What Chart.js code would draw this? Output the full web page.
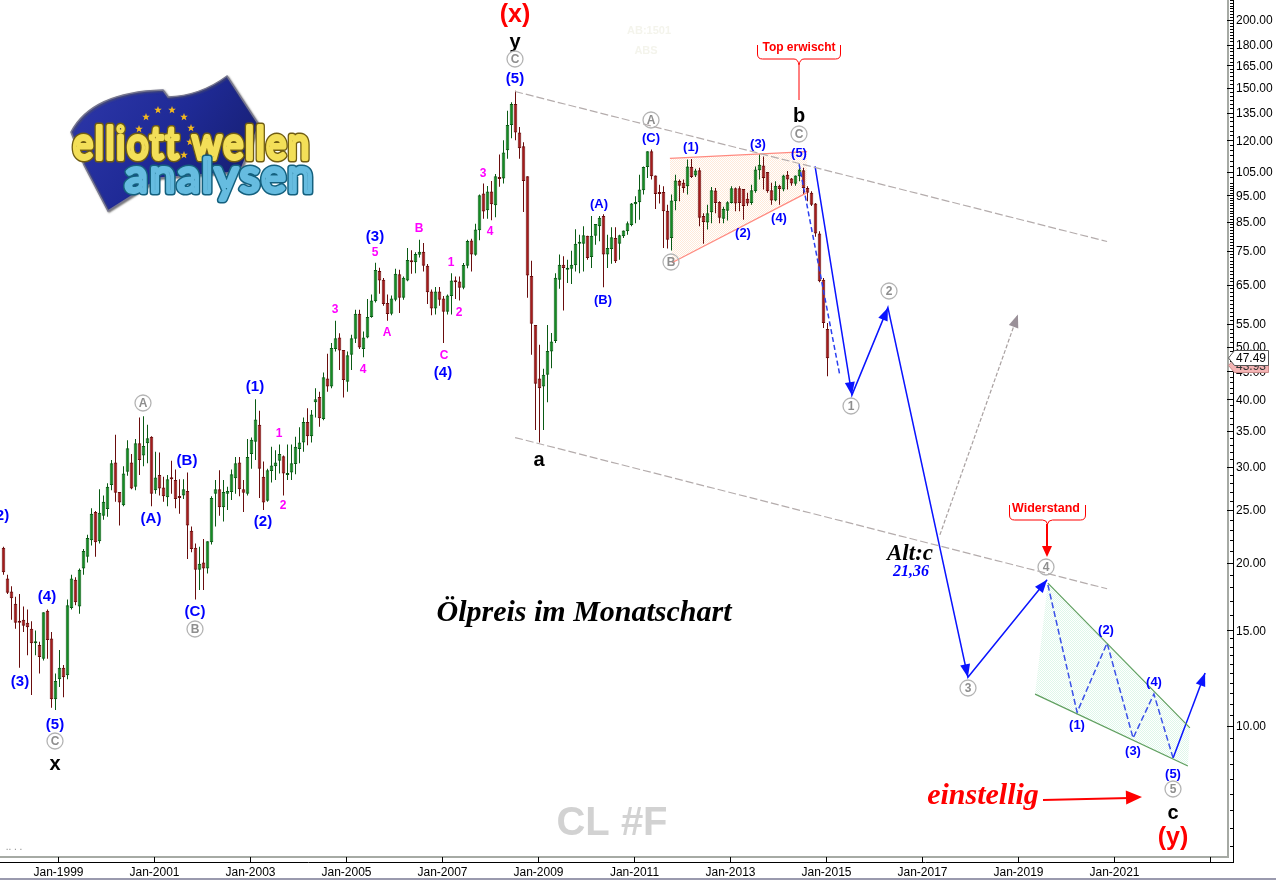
<!DOCTYPE html>
<html>
<head>
<meta charset="utf-8">
<title>CL #F</title>
<script src="https://cdn.jsdelivr.net/npm/chart.js@4"></script>
<style>
  html, body { margin: 0; padding: 0; background: #fff; overflow: hidden; }
  canvas { display: block; }
</style>
</head>
<body>
<canvas id="oilChart" width="1276" height="880"></canvas>
<script>
/* =========================
   DATA (monthly candles, first bar = Nov 1997)
========================= */
const candleHigh = [
  21.4,19.0,18.1,17.3,17.5,16.6,16.4,15.6,15.0,14.3,16.2,16.4,14.9,12.5,13.8,12.95,17.1,19.0,18.8,19.5,
  21.2,22.5,25.2,24.9,27.3,26.6,28.0,30.9,34.4,27.0,30.1,33.6,31.7,33.8,37.0,37.2,35.9,34.2,32.0,31.9,
  28.8,29.0,30.8,29.7,28.5,28.5,29.3,23.3,21.7,21.4,22.1,21.9,26.5,28.4,29.6,28.4,27.6,29.7,31.3,31.3,
  28.4,33.8,34.0,40.0,38.1,30.7,29.8,32.7,32.2,33.0,31.5,33.0,33.0,34.1,35.5,37.0,38.5,38.2,41.9,41.3,
  44.8,48.5,50.8,55.8,52.9,49.3,49.0,52.6,58.5,58.5,53.3,61.2,62.4,71.4,69.9,66.9,62.4,62.1,69.6,69.3,
  67.3,76.0,75.3,74.6,78.7,77.6,71.0,63.7,64.4,64.4,62.0,62.4,68.3,67.3,67.3,71.3,78.7,79.0,84.2,95.3,
  99.9,98.8,101,104,113,120,136,141,148,127,119,103,72.0,54.8,50.4,45.5,54.8,53.0,68.3,73.9,
  73.4,72.3,75.1,82.3,80.4,83.3,80.0,87.0,84.1,87.0,87.7,80.4,83.0,83.0,80.4,81.8,85.0,92.0,94.6,103.7,
  107.4,114.6,115.4,103.3,99.4,98.7,91.3,95.3,103.7,101.6,101.6,110.6,110.9,106.3,106.8,88.1,91.3,98.4,98.0,92.7,
  90.5,92.7,98.7,98.2,98.7,97.6,96.1,99.4,107.4,113.1,112.0,104.9,100.2,100.9,99.4,103.7,105.3,102.3,103.3,108.2,
  106.8,98.7,96.7,92.0,81.6,66.9,55.3
];
const candleOpen = [
  21.3,18.7,17.7,16.8,15.6,15.7,15.5,15.1,14.2,14.1,13.3,16.3,14.5,11.2,12.2,12.8,12.4,16.5,18.6,16.6,
  19.5,20.5,22.0,24.8,21.9,24.4,25.1,27.8,30.6,27.0,25.5,29.4,30.6,27.6,33.2,31.5,33.2,34.1,27.2,29.0,
  27.5,26.4,28.6,28.4,26.5,26.6,27.1,22.9,21.3,19.4,20.0,19.5,21.8,26.8,27.3,25.3,26.8,27.0,28.6,30.6,
  27.3,26.8,31.7,33.4,35.9,28.8,26.0,29.5,30.1,30.8,31.4,29.0,29.3,30.4,32.4,33.3,36.3,34.2,39.5,40.4,
  36.8,43.7,42.2,49.5,52.0,49.3,43.1,48.3,51.7,57.5,49.5,52.0,56.7,60.6,68.9,66.4,60.2,57.5,61.0,68.0,
  61.5,66.2,71.9,71.5,73.8,74.8,70.5,63.2,58.8,63.2,61.3,58.0,62.0,66.2,65.9,64.2,70.5,78.4,73.8,81.9,
  95.7,89.2,96.6,91.1,102.5,102,115,128,140,124,117,103,67.5,54.8,43.7,42.2,44.4,49.0,51.2,66.4,
  70.8,69.3,69.6,70.6,77.4,77.4,80.0,73.1,80.0,83.3,87.0,73.9,75.7,79.3,77.4,79.9,81.6,83.8,91.5,92.3,
  97.1,107.1,114.6,103.3,96.3,96.4,89.0,79.3,92.7,101,100.2,98.7,107.1,103.3,105.7,87.0,84.7,88.4,97.0,92.4,
  86.0,89.0,92.0,97.9,97.9,97.6,93.6,92.0,96.7,105.7,107.8,104.9,97.1,92.9,99.0,97.4,103.7,102.0,99.8,103.0,
  105.7,98.0,96.1,91.8,80.8,66.4,53.9
];
const candleClose = [
  19.2,17.6,17.2,15.5,15.5,15.3,15.2,14.2,14.3,13.4,16.2,14.4,11.2,12.1,12.8,12.3,16.7,18.7,16.9,19.4,
  21.0,22.2,24.6,21.8,24.7,25.9,27.6,30.5,26.9,25.8,29.2,32.5,27.4,33.2,30.9,32.8,33.9,26.8,28.7,27.4,
  26.5,28.5,28.5,26.2,26.3,27.3,23.4,21.2,19.4,19.9,19.5,21.9,26.3,27.3,25.3,27.0,27.1,29.1,30.5,27.3,
  26.9,31.3,33.7,36.7,29.8,25.8,29.6,30.2,30.6,31.7,29.2,29.2,30.5,32.7,33.3,36.3,34.2,37.5,40.0,36.9,
  43.9,42.2,49.7,51.8,49.2,43.4,48.2,51.8,57.5,49.8,52.0,56.7,60.8,69.2,66.2,59.9,57.4,61.3,68.1,61.5,
  67.0,72.2,71.5,74.1,74.8,70.5,63.0,58.8,63.2,61.0,58.0,62.1,66.2,65.7,64.2,70.7,78.3,73.9,82.2,95.0,
  88.7,96.6,91.5,103,101.8,114,128,140,124,116,101,67.6,55.1,42.7,41.9,44.4,49.1,51.1,67.0,70.8,
  69.8,69.8,70.8,77.4,77.7,80.2,72.8,80.0,84.1,86.4,73.9,76.0,79.5,71.8,80.2,81.8,84.4,91.8,92.4,97.4,
  107.1,114.6,103.0,95.5,95.5,88.8,78.7,92.9,101.2,99.0,98.0,107.4,102.7,105.6,86.4,84.8,88.1,97.1,92.0,86.4,
  89.7,92.3,97.9,91.8,92.0,90.8,91.8,97.1,106.0,108.2,102.3,96.7,92.9,99.0,97.6,103.3,101.6,99.9,103.3,106.0,
  98.0,96.1,91.3,80.8,66.0,55.3,47.6
];
const candleLow = [
  19.0,17.5,15.7,15.1,12.8,14.9,13.5,11.4,13.5,12.5,13.2,13.3,10.8,10.7,11.8,11.3,12.2,16.4,16.7,16.1,
  19.0,20.0,21.5,20.5,21.7,24.0,24.3,27.2,25.9,23.4,25.4,28.9,27.3,27.2,29.0,30.1,30.5,25.4,26.8,26.6,
  25.9,25.4,26.8,25.2,24.6,26.2,20.3,20.9,17.1,17.8,17.8,19.1,21.6,23.3,24.4,23.8,25.0,26.1,26.8,26.5,
  24.8,26.6,29.8,30.9,26.3,25.0,25.9,28.1,28.4,29.2,26.6,28.4,28.4,29.1,30.5,32.0,32.9,33.3,37.0,35.6,
  36.6,41.3,41.9,49.0,45.3,40.3,41.3,45.3,50.8,49.5,47.8,51.8,56.5,60.3,62.6,59.5,55.8,57.1,60.6,57.7,
  61.0,66.0,68.1,68.3,73.0,68.8,59.9,57.1,57.3,59.5,50.8,57.3,57.3,61.2,60.8,63.8,69.7,68.8,73.5,78.5,
  86.0,86.0,85.5,86.6,98.5,99.9,111,121,120,111,88.5,61.5,48.3,35.1,33.3,35.1,39.5,45.6,50.8,63.9,
  58.3,65.5,65.2,68.8,68.3,68.8,72.3,69.8,77.0,78.2,64.3,69.8,71.1,71.3,72.3,79.3,80.4,83.3,84.4,85.7,
  95.3,102.3,101.6,89.7,91.8,76.0,75.8,75.2,89.2,92.7,96.1,95.3,102.3,102.7,83.3,77.4,82.2,84.4,88.1,84.4,
  84.4,85.4,91.8,88.8,88.8,85.7,90.8,91.3,96.1,101.6,97.4,96.1,91.3,92.7,91.3,96.7,97.4,99.0,99.0,100.9,
  95.3,92.7,90.8,79.7,65.7,54.1,44.1
];

// month numbers count from Jan-1999 = 0
const firstCandleMonth = -14;
const tickMonths = [0, 24, 48, 72, 96, 120, 144, 168, 192, 216, 240, 264, 288];
const tickLabels = ["Jan-1999", "Jan-2001", "Jan-2003", "Jan-2005", "Jan-2007", "Jan-2009", "Jan-2011",
  "Jan-2013", "Jan-2015", "Jan-2017", "Jan-2019", "Jan-2021", ""];
const priceTicks = [200, 180, 165, 150, 135, 120, 105, 95, 85, 75, 65, 55, 50, 45, 40, 35, 30, 25, 20, 15, 10];

// drawn wave paths and channels, as [month, price]
const channelTop = [[113.9, 147.6], [261.9, 78.1]];
const channelBottom = [[113.9, 34.0], [261.9, 17.9]];
const altPath = [[220.1, 22.5], [239.6, 57.3]];
const mainPath = [[188.9, 107.4], [198.1, 40.7], [207.1, 59.0], [227.1, 12.3], [246.9, 18.6]];
const lastWavePath = [[278.4, 8.73], [286.4, 12.52]];
const fallDash = [[184.9, 108.4], [195.1, 44.2]];
const wedgeWaves = [[247.1, 18.2], [254.4, 10.6], [261.9, 14.22], [268.4, 9.5], [273.6, 11.45], [278.4, 8.73]];
const triangleTop = [[152.6, 111.1], [186.9, 114.4]];
const triangleBottom = [[153.1, 71.4], [186.9, 96.1]];
const wedgeTop = [[247.1, 18.34], [282.6, 9.92]];
const wedgeBottom = [[243.9, 11.45], [282.1, 8.44]];

/* =========================
   TEXT ON THE CHART
========================= */
const blueLabels = [
  ["(2)", 0, 515], ["(4)", 47, 596], ["(3)", 20, 681], ["(5)", 55, 724], ["(1)", 255, 386], ["(B)", 187, 460],
  ["(A)", 151, 518], ["(2)", 263, 521], ["(C)", 195, 611], ["(3)", 375, 236], ["(4)", 443, 372], ["(5)", 515, 78]
];
const smallBlueLabels = [
  ["(A)", 599, 203], ["(B)", 603, 299], ["(C)", 651, 137], ["(1)", 691, 146], ["(3)", 758, 143], ["(5)", 799, 152],
  ["(2)", 743, 232], ["(4)", 779, 217], ["(2)", 1106, 629], ["(4)", 1154, 681], ["(1)", 1077, 724], ["(3)", 1133, 750],
  ["(5)", 1173, 773]
];
const pinkLabels = [
  ["1", 279, 433], ["2", 283, 505], ["3", 335, 309], ["5", 375, 252], ["4", 363, 369], ["A", 387, 332], ["B", 419, 228],
  ["C", 444, 355], ["1", 451, 262], ["2", 459, 312], ["3", 483, 173], ["4", 490, 231]
];
const blackLabels = [["x", 55, 763], ["a", 539, 459], ["y", 515, 41], ["b", 799, 115], ["c", 1173, 812]];
const circleLabels = [
  ["A", 143, 403], ["B", 195, 629], ["C", 55, 741], ["C", 515, 59], ["A", 651, 120], ["B", 671, 262], ["C", 799, 134],
  ["2", 889, 291], ["1", 851, 406], ["3", 968, 688], ["4", 1046, 567], ["5", 1173, 789]
];

/* =========================
   DRAW HELPERS
========================= */
function dotPattern(ctx, dot) {
  const c = document.createElement("canvas");
  c.width = 2;
  c.height = 2;
  const p = c.getContext("2d");
  p.fillStyle = "#fff";
  p.fillRect(0, 0, 2, 2);
  p.fillStyle = dot;
  p.fillRect(0, 0, 1, 1);
  p.fillRect(1, 1, 1, 1);
  return ctx.createPattern(c, "repeat");
}

// y + 1: canvas "middle" sits a pixel above the visual centre of these fonts
function text(ctx, str, x, y, font, color) {
  ctx.font = font;
  ctx.fillStyle = color;
  ctx.textAlign = "center";
  ctx.textBaseline = "middle";
  ctx.fillText(str, x, y + 1);
}

function arrowHead(ctx, x0, y0, x1, y1, color, len, half) {
  const a = Math.atan2(y1 - y0, x1 - x0);
  ctx.fillStyle = color;
  ctx.beginPath();
  ctx.moveTo(x1, y1);
  ctx.lineTo(x1 - len * Math.cos(a) + half * Math.sin(a), y1 - len * Math.sin(a) - half * Math.cos(a));
  ctx.lineTo(x1 - len * Math.cos(a) - half * Math.sin(a), y1 - len * Math.sin(a) + half * Math.cos(a));
  ctx.closePath();
  ctx.fill();
}

function brace(ctx, left, right, top, bottom, tipY) {
  const mid = (left + right) / 2;
  ctx.beginPath();
  ctx.moveTo(left, top);
  ctx.lineTo(left, bottom - 5);
  ctx.quadraticCurveTo(left, bottom, left + 5, bottom);
  ctx.lineTo(mid - 5, bottom);
  ctx.quadraticCurveTo(mid - 1, bottom, mid, tipY);
  ctx.quadraticCurveTo(mid + 1, bottom, mid + 5, bottom);
  ctx.lineTo(right - 5, bottom);
  ctx.quadraticCurveTo(right, bottom, right, bottom - 5);
  ctx.lineTo(right, top);
  ctx.stroke();
}

function star(ctx, x, y, r) {
  ctx.beginPath();
  for (let i = 0; i < 10; i++) {
    const a = -Math.PI / 2 + i * Math.PI / 5;
    const d = i % 2 ? r * 0.42 : r;
    ctx.lineTo(x + d * Math.cos(a), y + d * Math.sin(a));
  }
  ctx.closePath();
  ctx.fill();
}

// logo letters are drawn as tubes: dark stroke, light stroke on top
function tubeText(ctx, str, x, y, maxWidth, dark, light) {
  ctx.strokeStyle = dark;
  ctx.lineWidth = 7;
  ctx.strokeText(str, x, y, maxWidth);
  ctx.strokeStyle = light;
  ctx.lineWidth = 4;
  ctx.strokeText(str, x, y, maxWidth);
}

function drawLogo(ctx) {
  ctx.save();
  ctx.shadowColor = "rgba(90,90,90,0.8)";
  ctx.shadowBlur = 2;
  ctx.shadowOffsetX = 1;
  ctx.shadowOffsetY = 1;
  const g = ctx.createLinearGradient(80, 90, 240, 200);
  g.addColorStop(0, "#2c36a8");
  g.addColorStop(0.5, "#1f2a96");
  g.addColorStop(1, "#161e70");
  ctx.fillStyle = g;
  ctx.strokeStyle = "#77778f";
  ctx.lineWidth = 1.5;
  ctx.beginPath();
  ctx.moveTo(71, 132);
  ctx.quadraticCurveTo(92, 92, 163, 90);
  ctx.lineTo(168, 97);
  ctx.quadraticCurveTo(200, 96, 227, 76);
  ctx.lineTo(259, 125);
  ctx.lineTo(240, 172);
  ctx.lineTo(160, 178);
  ctx.lineTo(108, 211);
  ctx.lineTo(84, 165);
  ctx.closePath();
  ctx.fill();
  ctx.stroke();
  ctx.restore();

  ctx.fillStyle = "#f2b81e";
  [[146, 117], [158, 110], [172, 110], [184, 117], [191, 128], [190, 142], [184, 155], [139, 129]].forEach(s => star(ctx, s[0], s[1], 4));

  ctx.save();
  ctx.textAlign = "left";
  ctx.textBaseline = "alphabetic";
  ctx.lineJoin = "round";
  ctx.lineCap = "round";
  ctx.font = "44px Lato";
  ctx.letterSpacing = "2px";
  tubeText(ctx, "elliott wellen", 73, 159, 238, "#6f5c12", "#f3df58");
  ctx.font = "46px Lato";
  tubeText(ctx, "analysen", 125, 192, 190, "#14607e", "#66bce0");
  ctx.restore();
}

/* =========================
   PLUGIN: frame, ladder ticks, fills, labels
========================= */
const decorPlugin = {
  id: "decor",
  beforeDatasetsDraw(chart) {
    const { ctx, scales } = chart;
    const px = p => [scales.x.getPixelForValue(p[0]), scales.y.getPixelForValue(p[1])];
    const area = (pts, fill) => {
      ctx.fillStyle = fill;
      ctx.beginPath();
      pts.map(px).forEach(p => ctx.lineTo(p[0], p[1]));
      ctx.closePath();
      ctx.fill();
    };
    area([triangleTop[0], triangleTop[1], triangleBottom[1], triangleBottom[0]], dotPattern(ctx, "#ffe9d8"));
    area([wedgeTop[0], wedgeTop[1], wedgeBottom[1], wedgeBottom[0]], dotPattern(ctx, "#dff7ea"));

    drawLogo(ctx);

    text(ctx, "AB:1501", 649, 30, "bold 11px 'Liberation Sans'", "#f4f4ec");
    text(ctx, "ABS", 646, 50, "bold 11px 'Liberation Sans'", "#f4f4ec");
    text(ctx, ".. . .", 14, 846, "10px 'Liberation Sans'", "#909090");
    text(ctx, "CL #F", 612, 823, "bold 40px 'Liberation Sans'", "#d2d2d2");

    // grey inner frame
    ctx.fillStyle = "#a6aaa4";
    ctx.fillRect(1227, 0, 2, 858);
    ctx.fillRect(0, 856, 1229, 2);
    ctx.fillStyle = "#9a9aae";
    ctx.fillRect(0, 878, 1276, 2);

    // ladder of minor ticks on the price axis
    ctx.fillStyle = "#000";
    const yMax = scales.y.max;
    for (let v = 6; v < yMax; v += v < 15 ? 0.5 : v < 100 ? 1 : 2.5) {
      ctx.fillRect(1230, Math.round(scales.y.getPixelForValue(v)), 3, 1);
    }
    priceTicks.forEach(v => ctx.fillRect(1227, Math.round(scales.y.getPixelForValue(v)), 7, 1));
    scales.x.ticks.forEach(t => ctx.fillRect(Math.floor(scales.x.getPixelForValue(t.value)), 857, 1, 5));
  },
  afterDatasetsDraw(chart) {
    const { ctx } = chart;

    // arrow heads on the ends of the wave paths
    chart.data.datasets.forEach((ds, i) => {
      if (!ds.arrowColor) return;
      const pts = chart.getDatasetMeta(i).data;
      pts.forEach((p, k) => {
        if (k === 0) return;
        arrowHead(ctx, pts[k - 1].x, pts[k - 1].y, p.x, p.y, ds.arrowColor, 13, 5);
      });
    });

    blueLabels.forEach(l => text(ctx, l[0], l[1], l[2], "bold 15px 'Liberation Sans'", "#0000ff"));
    smallBlueLabels.forEach(l => text(ctx, l[0], l[1], l[2], "bold 13px 'Liberation Sans'", "#0000ff"));
    pinkLabels.forEach(l => text(ctx, l[0], l[1], l[2], "bold 12px 'Liberation Sans'", "#ff00ff"));
    blackLabels.forEach(l => text(ctx, l[0], l[1], l[2], "bold 20px 'Liberation Sans'", "#000"));

    circleLabels.forEach(l => {
      ctx.strokeStyle = "#b4b4b4";
      ctx.lineWidth = 1.3;
      ctx.beginPath();
      ctx.arc(l[1], l[2], 8, 0, Math.PI * 2);
      ctx.stroke();
      text(ctx, l[0], l[1], l[2] - 0.5, "bold 12px 'Liberation Sans'", "#8e8e8e");
    });

    text(ctx, "(x)", 515, 14, "bold 25px 'Liberation Sans'", "#ff0000");
    text(ctx, "(y)", 1173, 837, "bold 25px 'Liberation Sans'", "#ff0000");
    text(ctx, "Ölpreis im Monatschart", 584, 612, "italic bold 30px 'Liberation Serif'", "#000");
    text(ctx, "Alt:c", 910, 553, "italic bold 23px 'Liberation Serif'", "#000");
    text(ctx, "21,36", 911, 571, "italic bold 16px 'Liberation Serif'", "#0000ff");
    text(ctx, "einstellig", 983, 795, "italic bold 30px 'Liberation Serif'", "#ff0000");

    // red callouts
    ctx.strokeStyle = "#ff0000";
    ctx.lineWidth = 1;
    brace(ctx, 757.5, 840.5, 45, 59, 65);
    ctx.beginPath();
    ctx.moveTo(799, 65);
    ctx.lineTo(799, 100);
    ctx.stroke();
    text(ctx, "Top erwischt", 799, 47, "bold 12px 'Liberation Sans'", "#ff0000");

    brace(ctx, 1009.5, 1085.5, 505, 520, 524);
    ctx.lineWidth = 2;
    ctx.beginPath();
    ctx.moveTo(1047, 524);
    ctx.lineTo(1047, 548);
    ctx.stroke();
    arrowHead(ctx, 1047, 524, 1047, 557, "#ff0000", 11, 5);
    text(ctx, "Widerstand", 1046, 508, "bold 12.5px 'Liberation Sans'", "#ff0000");

    ctx.beginPath();
    ctx.moveTo(1043, 800);
    ctx.lineTo(1130, 798);
    ctx.stroke();
    arrowHead(ctx, 1043, 800, 1142, 797, "#ff0000", 16, 7);

    // last price tags on the axis
    const tag = (top, bottom, fill, line) => {
      ctx.fillStyle = fill;
      ctx.strokeStyle = line;
      ctx.lineWidth = 1;
      ctx.beginPath();
      ctx.moveTo(1228.5, (top + bottom) / 2);
      ctx.lineTo(1234.5, top);
      ctx.lineTo(1268.5, top);
      ctx.lineTo(1268.5, bottom);
      ctx.lineTo(1234.5, bottom);
      ctx.closePath();
      ctx.fill();
      ctx.stroke();
    };
    tag(358.5, 372.5, "#f4b4b4", "#c98a8a");
    ctx.textAlign = "left";
    ctx.textBaseline = "middle";
    ctx.font = "12px 'Liberation Sans'";
    ctx.fillStyle = "#333";
    ctx.fillText("43.93", 1236, 367);
    tag(350.5, 365.5, "#fff", "#555");
    ctx.fillStyle = "#000";
    ctx.fillText("47.49", 1236, 359);
  }
};

/* =========================
   CHART
========================= */
const xy = pts => pts.map(p => ({ x: p[0], y: p[1] }));
const lineSet = (pts, color, width, extra) => Object.assign({
  type: "line",
  data: xy(pts),
  borderColor: color,
  borderWidth: width,
  pointRadius: 0,
  tension: 0,
  fill: false,
  order: 0
}, extra);

const upColor = "#138c22", upEdge = "#0a5a14";
const downColor = "#a51a1a", downEdge = "#6a0d0d";
const isUp = i => candleClose[i] >= candleOpen[i];
const candleMonths = candleClose.map((c, i) => firstCandleMonth + i);

// no label padding around the plot, it runs to the canvas edges
const noPadding = scale => {
  scale.paddingLeft = 0;
  scale.paddingRight = 0;
  scale.paddingTop = 0;
  scale.paddingBottom = 0;
};

new Chart(document.getElementById("oilChart"), {
  type: "bar",
  data: {
    datasets: [
      lineSet(channelTop, "#b4acac", 1.2, { borderDash: [8, 3] }),
      lineSet(channelBottom, "#b4acac", 1.2, { borderDash: [8, 3] }),
      lineSet(altPath, "#a8a0a0", 1.2, { borderDash: [4, 2], arrowColor: "#9a9098" }),
      lineSet(triangleTop, "#ff8a80", 1.2),
      lineSet(triangleBottom, "#ff8a80", 1.2),
      lineSet(wedgeTop, "#5f9f5f", 1.2),
      lineSet(wedgeBottom, "#5f9f5f", 1.2),
      lineSet(fallDash, "#2a3ff0", 1.5, { borderDash: [5, 3] }),
      lineSet(wedgeWaves, "#3a50e8", 1.5, { borderDash: [6, 3] }),
      lineSet(mainPath, "#0a14ff", 1.5, { arrowColor: "#0a14ff" }),
      lineSet(lastWavePath, "#0a14ff", 1.5, { arrowColor: "#0a14ff" }),
      {
        label: "wicks",
        data: candleMonths.map((m, i) => ({ x: m, y: [candleLow[i], candleHigh[i]] })),
        backgroundColor: candleMonths.map((m, i) => isUp(i) ? upEdge : downEdge),
        barThickness: 1,
        grouped: false,
        inflateAmount: 0,
        order: 3
      },
      {
        label: "bodies",
        data: candleMonths.map((m, i) => ({ x: m, y: [candleOpen[i], candleClose[i]] })),
        backgroundColor: candleMonths.map((m, i) => isUp(i) ? upColor : downColor),
        borderColor: candleMonths.map((m, i) => isUp(i) ? upEdge : downEdge),
        borderWidth: 1,
        borderSkipped: false,
        barThickness: 3.6,
        minBarLength: 2,
        grouped: false,
        inflateAmount: 0,
        order: 2
      }
    ]
  },
  options: {
    responsive: false,
    animation: false,
    devicePixelRatio: 1,
    layout: { padding: 0 },
    plugins: {
      legend: { display: false },
      title: { display: false },
      tooltip: { enabled: false }
    },
    scales: {
      x: {
        type: "linear",
        offset: false,
        min: -14.875,
        max: 293.375,
        grid: { display: false, drawTicks: false },
        border: { display: true, color: "#000", width: 1 },
        afterBuildTicks: scale => {
          // the tick marks sit just left of the bar centres
          scale.ticks = tickMonths.map(m => ({ value: m - 0.25 }));
        },
        afterFit: scale => {
          scale.height = 18;
          noPadding(scale);
        },
        ticks: {
          autoSkip: false,
          maxRotation: 0,
          padding: 3,
          color: "#000",
          font: { family: "'Liberation Sans'", size: 12 },
          callback: (value, index) => tickLabels[index]
        }
      },
      y: {
        type: "logarithmic",
        position: "right",
        min: 5.616,
        max: 217.6,
        grid: { display: false, drawTicks: false },
        border: { display: true, color: "#000", width: 1 },
        afterBuildTicks: scale => {
          scale.ticks = priceTicks.map(v => ({ value: v }));
        },
        afterFit: scale => {
          scale.width = 43;
          noPadding(scale);
        },
        ticks: {
          autoSkip: false,
          padding: 3,
          labelOffset: 1,
          color: "#000",
          font: { family: "'Liberation Sans'", size: 12 },
          callback: value => Number(value).toFixed(2)
        }
      }
    }
  },
  plugins: [decorPlugin]
});
</script>
</body>
</html>
